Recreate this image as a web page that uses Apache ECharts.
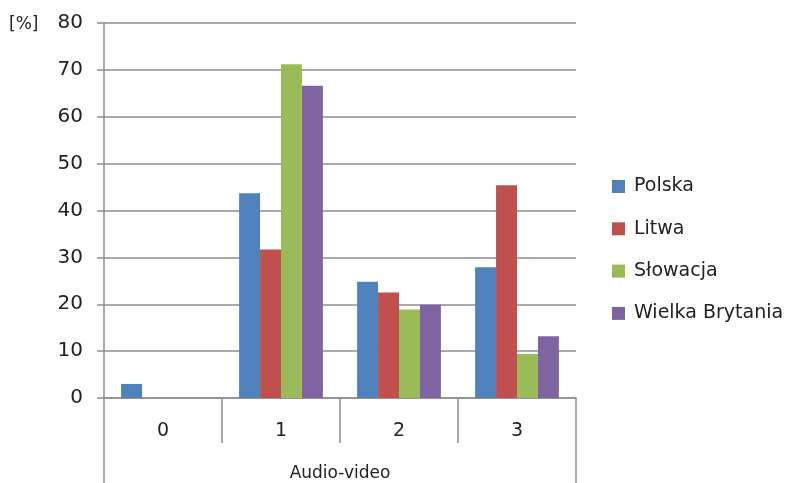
<!DOCTYPE html>
<html>
<head>
<meta charset="utf-8">
<script src="https://cdn.jsdelivr.net/npm/echarts@6/dist/echarts.min.js"></script>
<style>html,body{margin:0;padding:0;background:#fff;}#c{width:785px;height:483px;}</style>
</head>
<body>
<div id="c"></div>
<script>
const categories = ['0', '1', '2', '3'];
const groupLabel = ['Audio-video'];
const seriesNames = ['Polska', 'Litwa', 'Słowacja', 'Wielka Brytania'];
const polska = [3.0, 43.7, 24.8, 27.9];
const litwa = [0, 31.7, 22.5, 45.4];
const slowacja = [0, 71.2, 18.9, 9.4];
const wielkaBrytania = [0, 66.6, 19.9, 13.2];
const colors = ['#4F81BD', '#C0504D', '#9BBB59', '#8064A2'];

const FONT = 'DejaVu Sans';
const chart = echarts.init(document.getElementById('c'), null, {renderer: 'canvas'});
const values = [polska, litwa, slowacja, wielkaBrytania];
chart.setOption({
  animation: false,
  color: colors,
  textStyle: {fontFamily: FONT},
  title: {text: '[%]', left: 9, top: 16, padding: 0, textStyle: {fontFamily: FONT, fontSize: 17, fontWeight: 'normal', color: '#222'}},
  grid: {left: 104, right: 209, top: 23, bottom: 85, containLabel: false},
  legend: {
    orient: 'vertical', left: 612, top: 177, padding: 0, itemWidth: 13, itemHeight: 13, itemGap: 23.3,
    icon: 'rect',
    textStyle: {fontFamily: FONT, fontSize: 19, color: '#222', padding: [0, 0, 0, 4]},
    data: seriesNames
  },
  xAxis: [
    {
      type: 'category', data: categories, position: 'bottom',
      axisLine: {show: true, lineStyle: {color: '#8e8e8e', width: 1.5}},
      axisTick: {show: true, length: 45, lineStyle: {color: '#8e8e8e', width: 1.5}},
      axisLabel: {fontFamily: FONT, fontSize: 19, color: '#222', margin: 24}
    },
    {
      type: 'category', data: groupLabel, position: 'bottom',
      axisLine: {show: false},
      axisTick: {show: true, length: 85, lineStyle: {color: '#8e8e8e', width: 1.5}},
      axisLabel: {fontFamily: FONT, fontSize: 17, color: '#222', margin: 67}
    }
  ],
  yAxis: {
    type: 'value', min: 0, max: 80, interval: 10,
    axisLine: {show: true, lineStyle: {color: '#8e8e8e', width: 1.5}},
    axisTick: {show: true, length: 7, lineStyle: {color: '#8e8e8e', width: 1.5}},
    splitLine: {show: true, lineStyle: {color: '#8e8e8e', width: 1.5}},
    axisLabel: {fontFamily: FONT, fontSize: 20, color: '#222', margin: 21}
  },
  series: seriesNames.map((n, i) => ({
    name: n, type: 'bar', data: values[i], xAxisIndex: 0,
    barGap: '0%', barCategoryGap: '29%',
    itemStyle: {color: colors[i]}
  }))
});
</script>
</body>
</html>
